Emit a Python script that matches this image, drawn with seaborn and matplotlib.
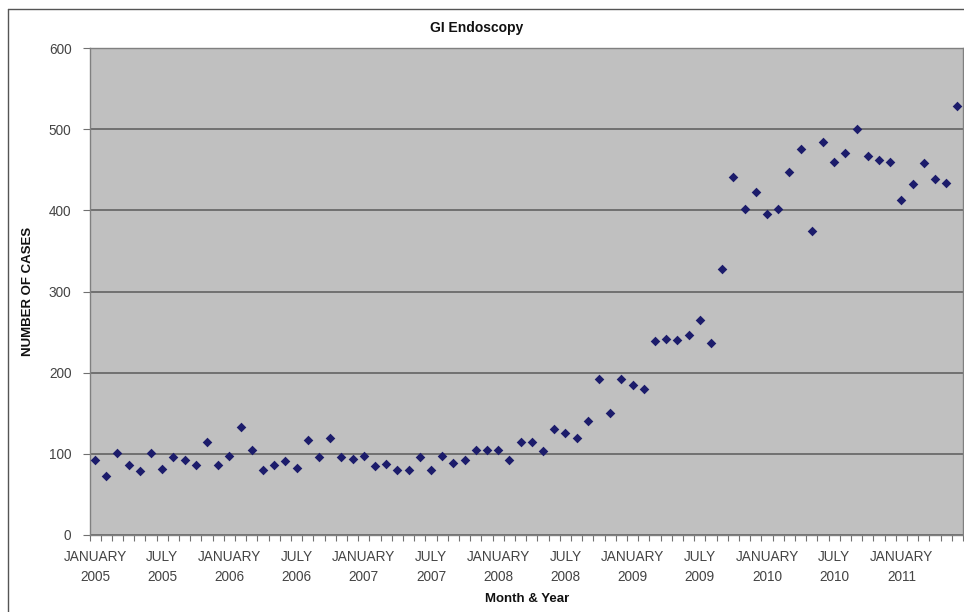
import matplotlib
matplotlib.use('Agg')
import matplotlib.pyplot as plt
from matplotlib.lines import Line2D
from matplotlib.ticker import MultipleLocator, FixedLocator
import seaborn as sns
import pandas as pd
import numpy as np

# monthly GI endoscopy case counts, Jan 2005 .. Jun 2011
cases_2005_2007 = [93, 73, 101, 86, 79, 101, 81, 96, 93, 86, 115, 86,
                   97, 133, 105, 80, 86, 91, 83, 117, 96, 119, 96, 94,
                   97, 85, 87]
cases_2007_2009 = [80, 80, 96, 80, 97, 89, 93, 105, 105, 105, 93, 115,
                   115, 104, 130, 126, 119, 141, 192, 150, 192, 185, 180]
cases_2009_2011 = [239, 242, 240, 246, 265, 237, 328, 441, 402, 423, 396, 402,
                   447, 475, 375, 484, 460, 471, 500, 467, 462, 460,
                   413, 432, 458, 439, 434, 528]
cases = cases_2005_2007 + cases_2007_2009 + cases_2009_2011

months = pd.period_range('2005-01', periods=len(cases), freq='M')
tick_labels = [m.strftime('%B').upper() + '\n' + str(m.year)
               for m in months if m.month in (1, 7)]
tick_pos = [i for i, m in enumerate(months) if m.month in (1, 7)]

df = pd.DataFrame({'pos': np.arange(len(cases)), 'cases': cases})

sns.set_style('white')
plt.rcParams['font.family'] = ['Liberation Sans', 'DejaVu Sans']

fig = plt.figure(figsize=(9.64, 6.12), dpi=100)
ax = fig.add_axes([89.5 / 964, 77 / 612, (963 - 89.5) / 964, (535 - 48) / 612])
ax.set_facecolor('#c0c0c0')

sns.scatterplot(data=df, x='pos', y='cases', marker='D', color='#1c1c6b',
                s=24, linewidth=0, ax=ax, zorder=3)

ax.set_xlim(-0.5, len(cases) - 0.5)
ax.set_ylim(0, 600)
ax.yaxis.set_major_locator(MultipleLocator(100))
ax.grid(axis='y', color='#6a6a6a', linewidth=1.3)
ax.grid(axis='x', visible=False)
ax.set_axisbelow(True)

ax.xaxis.set_major_locator(FixedLocator(tick_pos))
ax.set_xticklabels(tick_labels, linespacing=1.5)
ax.xaxis.set_minor_locator(FixedLocator(np.arange(len(cases) + 1) - 0.5))
ax.tick_params(axis='x', which='major', length=0, pad=11, labelsize=9.8,
               labelcolor='#444444')
ax.tick_params(axis='x', which='minor', length=4, width=0.8, color='#707070',
               direction='out', bottom=True)
ax.tick_params(axis='y', length=5, width=0.8, color='#707070', direction='out',
               left=True, pad=8, labelsize=9.8, labelcolor='#444444')

for sp in ax.spines.values():
    sp.set_color('#808080')
    sp.set_linewidth(1.0)

ax.set_xlabel('')
ax.set_ylabel('')
fig.text(28 / 964, 1 - 291 / 612, 'NUMBER OF CASES', rotation=90,
         ha='center', va='center', fontsize=9.5, fontweight='bold', color='#111111')
fig.text(527 / 964, 1 - 599 / 612, 'Month & Year', ha='center', va='center',
         fontsize=9.5, fontweight='bold', color='#111111')
fig.text(477 / 964, 1 - 28 / 612, 'GI Endoscopy', ha='center', va='center',
         fontsize=10, fontweight='bold', color='#111111')

# outer chart frame (cut off at right and bottom)
fig.add_artist(Line2D([8 / 964, 8 / 964], [0, 1 - 9 / 612], color='#555555',
                      linewidth=1.0, transform=fig.transFigure))
fig.add_artist(Line2D([8 / 964, 1], [1 - 9 / 612, 1 - 9 / 612], color='#555555',
                      linewidth=1.0, transform=fig.transFigure))

fig.savefig('out.png', dpi=100)
